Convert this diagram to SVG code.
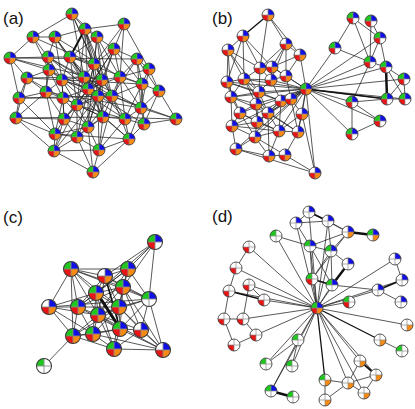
<svg xmlns="http://www.w3.org/2000/svg" xmlns:xlink="http://www.w3.org/1999/xlink" width="415" height="409" viewBox="0 0 415 409">
<style>
.e{fill:none;stroke:#222;stroke-width:0.75}
.t{fill:none;stroke:#111;stroke-linecap:round}
.lbl{font-family:"Liberation Sans",Arial,sans-serif;font-size:17px;fill:#111}
.g{fill:#1ec81e}.b{fill:#1010e6}.r{fill:#e81515}.o{fill:#f78a12}
</style>
<defs>
<path id="tl" d="M0,0H-6A6,6 0 0 1 0,-6Z"/>
<path id="tr" d="M0,0V-6A6,6 0 0 1 6,0Z"/>
<path id="bl" d="M0,0V6A6,6 0 0 1 -6,0Z"/>
<path id="br" d="M0,0H6A6,6 0 0 1 0,6Z"/>
<circle id="bg" r="6" fill="#fff"/>
<g id="ring"><path d="M-6,0H6M0,-6V6" stroke="#8a8a8a" stroke-width="0.7" fill="none"/><circle r="6" fill="none" stroke="#3a3a3a" stroke-width="0.85"/></g>
<g id="GBRO"><use href="#bg"/><use href="#tl" class="g"/><use href="#tr" class="b"/><use href="#bl" class="r"/><use href="#br" class="o"/><use href="#ring"/></g>
<g id="WBRO"><use href="#bg"/><use href="#tr" class="b"/><use href="#bl" class="r"/><use href="#br" class="o"/><use href="#ring"/></g>
<g id="GBRW"><use href="#bg"/><use href="#tl" class="g"/><use href="#tr" class="b"/><use href="#bl" class="r"/><use href="#ring"/></g>
<g id="GBWW"><use href="#bg"/><use href="#tl" class="g"/><use href="#tr" class="b"/><use href="#ring"/></g>
<g id="GWWW"><use href="#bg"/><use href="#tl" class="g"/><use href="#ring"/></g>
<g id="WBWW"><use href="#bg"/><use href="#tr" class="b"/><use href="#ring"/></g>
<g id="WWRW"><use href="#bg"/><use href="#bl" class="r"/><use href="#ring"/></g>
<g id="GWRW"><use href="#bg"/><use href="#tl" class="g"/><use href="#bl" class="r"/><use href="#ring"/></g>
<g id="WWWO"><use href="#bg"/><use href="#br" class="o"/><use href="#ring"/></g>
<g id="WBWO"><use href="#bg"/><use href="#tr" class="b"/><use href="#br" class="o"/><use href="#ring"/></g>
<g id="GBWO"><use href="#bg"/><use href="#tl" class="g"/><use href="#tr" class="b"/><use href="#br" class="o"/><use href="#ring"/></g>
<g id="GWWO"><use href="#bg"/><use href="#tl" class="g"/><use href="#br" class="o"/><use href="#ring"/></g>
</defs>
<rect width="415" height="409" fill="#fff"/>
<g id="labels">
<text class="lbl" x="3" y="24">(a)</text>
<text class="lbl" x="212" y="24">(b)</text>
<text class="lbl" x="3" y="223">(c)</text>
<text class="lbl" x="212" y="222">(d)</text>
</g>
<g id="connectors">
<path class="e" d="M72 14 85 29M72 14 33 37M72 14 97 37M72 14 94 64M72 14 84 77M72 14 102 80M124 24 85 29M124 24 114 49M124 24 94 64M124 24 120 77M124 24 149 69M85 29 55 37M85 29 97 37M85 29 94 64M85 29 102 80M85 29 88 89M85 29 98 96M85 29 77 105M33 37 55 37M33 37 10 58M33 37 48 57M33 37 49 70M55 37 48 57M55 37 70 57M55 37 84 77M55 37 62 80M55 37 88 89M97 37 114 49M97 37 70 57M97 37 94 64M97 37 120 77M97 37 112 96M97 37 102 80M114 49 137 59M114 49 94 64M114 49 120 77M114 49 102 80M114 49 98 96M114 49 77 105M114 49 88 89M10 58 48 57M10 58 49 70M10 58 27 78M10 58 19 98M10 58 102 80M10 58 137 59M48 57 70 57M48 57 49 70M48 57 62 80M48 57 46 92M48 57 84 77M48 57 98 96M70 57 94 64M70 57 84 77M70 57 62 80M70 57 88 89M70 57 98 96M70 57 77 105M70 57 125 119M137 59 149 69M137 59 120 77M137 59 142 84M137 59 159 91M137 59 141 108M137 59 112 96M94 64 84 77M94 64 102 80M94 64 88 89M94 64 112 96M94 64 103 117M149 69 142 84M149 69 159 91M149 69 120 77M149 69 141 108M49 70 27 78M49 70 62 80M49 70 46 92M49 70 63 98M49 70 88 89M27 78 46 92M27 78 19 98M27 78 63 98M27 78 16 118M27 78 84 77M27 78 142 84M84 77 62 80M84 77 102 80M84 77 88 89M84 77 98 96M84 77 77 105M84 77 103 117M120 77 102 80M120 77 142 84M120 77 112 96M120 77 141 108M120 77 125 119M120 77 88 89M62 80 46 92M62 80 88 89M62 80 63 98M62 80 77 105M62 80 64 119M62 80 112 96M102 80 88 89M102 80 98 96M102 80 112 96M102 80 103 117M102 80 88 127M142 84 159 91M142 84 112 96M142 84 141 108M142 84 144 124M142 84 125 119M46 92 19 98M46 92 63 98M46 92 64 119M46 92 16 118M46 92 55 134M88 89 98 96M88 89 63 98M88 89 77 105M88 89 64 119M88 89 88 127M88 89 103 117M88 89 112 96M159 91 141 108M159 91 144 124M159 91 176 119M19 98 16 118M19 98 63 98M19 98 55 134M19 98 112 96M98 96 112 96M98 96 77 105M98 96 103 117M98 96 88 127M98 96 77 137M98 96 99 150M112 96 141 108M112 96 103 117M112 96 125 119M112 96 129 139M112 96 77 105M112 96 176 119M63 98 77 105M63 98 64 119M63 98 88 127M63 98 55 134M77 105 64 119M77 105 103 117M77 105 88 127M77 105 77 137M77 105 125 119M77 105 54 151M141 108 125 119M141 108 144 124M141 108 176 119M141 108 129 139M16 118 55 134M16 118 54 151M16 118 64 119M16 118 103 117M64 119 88 127M64 119 55 134M64 119 77 137M64 119 54 151M103 117 125 119M103 117 88 127M103 117 77 137M103 117 129 139M103 117 99 150M103 117 176 119M125 119 144 124M125 119 129 139M125 119 99 150M144 124 176 119M144 124 129 139M88 127 77 137M88 127 99 150M88 127 93 172M88 127 55 134M55 134 54 151M55 134 77 137M55 134 129 139M77 137 54 151M77 137 99 150M77 137 93 172M129 139 99 150M129 139 93 172M54 151 99 150M54 151 93 172M99 150 93 172M33 37 94 64M55 37 120 77M48 57 112 96M49 70 125 119M46 92 141 108M62 80 129 139M84 77 141 108M70 57 142 84M88 89 144 124M98 96 54 151M102 80 64 119M94 64 77 137M112 96 88 127M120 77 99 150M85 29 112 96M97 37 88 127M114 49 142 84M63 98 103 117"/>
<path class="t" stroke-width="2" d="M85 29 70 57"/>
<path class="e" d="M268 15 286 44M268 15 300 55M268 15 260 68M243 36 228 50M243 36 260 68M243 36 227 82M243 36 244 79M243 36 272 67M228 50 227 82M228 50 244 79M228 50 231 97M228 50 260 68M286 44 300 55M286 44 260 68M286 44 272 67M286 44 286 76M286 44 271 80M300 55 286 76M300 55 306 89M300 55 272 67M260 68 272 67M260 68 244 79M260 68 271 80M260 68 259 92M272 67 271 80M272 67 286 76M272 67 306 89M227 82 244 79M227 82 231 97M227 82 259 92M227 82 306 89M227 82 240 113M244 79 271 80M244 79 259 92M244 79 231 97M244 79 306 89M244 79 256 104M271 80 286 76M271 80 306 89M271 80 259 92M271 80 281 101M286 76 306 89M286 76 291 99M306 89 231 97M306 89 259 92M306 89 281 101M306 89 291 99M306 89 256 104M306 89 240 113M306 89 302 114M306 89 268 113M306 89 232 126M306 89 257 122M306 89 279 131M306 89 298 132M306 89 236 149M306 89 315 173M306 89 255 137M231 97 259 92M231 97 256 104M231 97 240 113M231 97 232 126M259 92 281 101M259 92 256 104M259 92 268 113M281 101 291 99M281 101 268 113M281 101 257 122M281 101 279 131M291 99 302 114M291 99 268 113M291 99 298 132M256 104 240 113M256 104 268 113M256 104 257 122M240 113 232 126M240 113 257 122M240 113 255 137M268 113 257 122M268 113 279 131M268 113 298 132M268 113 269 156M302 114 298 132M302 114 279 131M302 114 315 173M232 126 257 122M232 126 236 149M232 126 255 137M257 122 279 131M257 122 255 137M279 131 298 132M279 131 269 156M279 131 255 137M298 132 285 155M255 137 236 149M255 137 269 156M255 137 285 155M236 149 269 156M269 156 285 155M285 155 315 173M236 149 315 173M227 82 281 101M231 97 268 113M240 113 279 131M232 126 279 131M256 104 298 132M259 92 257 122M244 79 268 113M228 50 259 92M306 89 335 48M306 89 370 62M306 89 386 67M306 89 404 79M306 89 387 99M306 89 405 99M306 89 352 102M306 89 380 121M306 89 352 134M306 89 380 38M353 18 335 48M353 18 370 62M353 18 380 38M371 21 380 38M371 21 370 62M380 38 386 67M380 38 370 62M335 48 370 62M370 62 352 102M370 62 386 67M386 67 404 79M386 67 405 99M404 79 387 99M404 79 405 99M387 99 405 99M387 99 352 102M352 102 352 134M352 102 380 121M380 121 352 134"/>
<path class="t" stroke-width="2.5" d="M386 67 387 99"/>
<path class="t" stroke-width="1.3" d="M243 36 268 15M306 89 387 99"/>
<path class="e" d="M155 242 105 276M155 242 128 269M155 242 123 287M155 242 149 299M155 242 96 293M71 269 105 276M71 269 128 269M71 269 96 293M71 269 49 307M71 269 78 307M71 269 98 315M71 269 73 336M71 269 119 307M71 269 123 287M105 276 128 269M105 276 96 293M105 276 123 287M105 276 78 307M105 276 98 315M105 276 119 307M105 276 149 299M128 269 96 293M128 269 123 287M128 269 149 299M128 269 119 307M128 269 98 315M128 269 78 307M96 293 123 287M96 293 49 307M96 293 78 307M96 293 98 315M96 293 119 307M96 293 93 334M96 293 114 349M123 287 78 307M123 287 149 299M123 287 98 315M123 287 119 307M123 287 120 329M123 287 141 330M123 287 163 350M49 307 78 307M49 307 98 315M49 307 73 336M49 307 93 334M49 307 149 299M78 307 98 315M78 307 119 307M78 307 73 336M78 307 93 334M78 307 120 329M149 299 119 307M149 299 120 329M149 299 141 330M149 299 163 350M149 299 98 315M98 315 119 307M98 315 73 336M98 315 93 334M98 315 120 329M98 315 141 330M98 315 114 349M98 315 163 350M119 307 93 334M119 307 120 329M119 307 141 330M119 307 114 349M119 307 163 350M119 307 73 336M73 336 93 334M73 336 114 349M73 336 120 329M73 336 44 366M93 334 120 329M93 334 114 349M93 334 163 350M120 329 141 330M120 329 114 349M120 329 163 350M141 330 114 349M141 330 163 350M114 349 163 350M71 269 149 299"/>
<path class="t" stroke-width="3" d="M97 293 119 327"/>
<path class="t" stroke-width="1.6" d="M105 276 120 329"/>
<path class="e" d="M309 212 296 223M309 212 348 232M296 223 328 221M296 223 310 246M328 221 348 232M328 221 331 251M348 232 310 246M348 232 331 251M348 232 312 279M276 236 310 246M310 246 331 251M310 246 312 279M310 246 332 285M331 251 332 285M331 251 312 279M348 264 331 251M395 259 402 280M378 290 401 302M378 290 332 285M249 247 236 268M236 268 229 291M229 291 224 319M224 319 234 345M234 345 256 335M256 335 243 319M243 319 249 285M243 319 224 319M249 285 264 300M380 340 402 351M360 361 348 383M376 375 364 393M376 375 348 383M348 383 325 380M325 380 325 400M348 383 325 400M348 383 364 393M298 340 266 364M298 340 292 366M298 340 271 391M317 308 309 212M317 308 296 223M317 308 328 221M317 308 276 236M317 308 310 246M317 308 331 251M317 308 249 247M317 308 395 259M317 308 236 268M317 308 312 279M317 308 332 285M317 308 378 290M317 308 249 285M317 308 264 300M317 308 349 302M317 308 243 319M317 308 407 325M317 308 256 335M317 308 298 340M317 308 360 361M317 308 266 364M317 308 292 366M317 308 376 375M317 308 348 383M317 308 364 393M317 308 271 391M317 308 229 291M317 308 348 264M317 308 402 280"/>
<path class="t" stroke-width="2.4" d="M348 232 373 235M348 264 332 285M271 391 293 397"/>
<path class="t" stroke-width="1.8" d="M312 279 332 285M402 280 378 290M360 361 376 375M229 291 264 300M309 212 328 221"/>
<path class="t" stroke-width="1.3" d="M317 308 325 380M317 308 380 340"/>
</g>
<g id="panel-a">
<g id="a1" transform="translate(72 14)"><use href="#GBRO"/></g>
<g id="a2" transform="translate(124 24)"><use href="#GBRO"/></g>
<g id="a3" transform="translate(85 29)"><use href="#GBRO"/></g>
<g id="a4" transform="translate(33 37)"><use href="#GBRO"/></g>
<g id="a5" transform="translate(55 37)"><use href="#GBRO"/></g>
<g id="a6" transform="translate(97 37)"><use href="#GBRO"/></g>
<g id="a7" transform="translate(114 49)"><use href="#GBRO"/></g>
<g id="a8" transform="translate(10 58)"><use href="#GBRO"/></g>
<g id="a9" transform="translate(48 57)"><use href="#GBRO"/></g>
<g id="a10" transform="translate(70 57)"><use href="#GBRO"/></g>
<g id="a11" transform="translate(137 59)"><use href="#GBRO"/></g>
<g id="a12" transform="translate(94 64)"><use href="#GBRO"/></g>
<g id="a13" transform="translate(149 69)"><use href="#GBRO"/></g>
<g id="a14" transform="translate(49 70)"><use href="#GBRO"/></g>
<g id="a15" transform="translate(27 78)"><use href="#GBRO"/></g>
<g id="a16" transform="translate(84 77)"><use href="#GBRO"/></g>
<g id="a17" transform="translate(120 77)"><use href="#GBRO"/></g>
<g id="a18" transform="translate(62 80)"><use href="#GBRO"/></g>
<g id="a19" transform="translate(102 80)"><use href="#GBRO"/></g>
<g id="a20" transform="translate(142 84)"><use href="#GBRO"/></g>
<g id="a21" transform="translate(46 92)"><use href="#GBRO"/></g>
<g id="a22" transform="translate(88 89)"><use href="#GBRO"/></g>
<g id="a23" transform="translate(159 91)"><use href="#GBRO"/></g>
<g id="a24" transform="translate(19 98)"><use href="#GBRO"/></g>
<g id="a25" transform="translate(98 96)"><use href="#GBRO"/></g>
<g id="a26" transform="translate(112 96)"><use href="#GBRO"/></g>
<g id="a27" transform="translate(63 98)"><use href="#GBRO"/></g>
<g id="a28" transform="translate(77 105)"><use href="#GBRO"/></g>
<g id="a29" transform="translate(141 108)"><use href="#GBRO"/></g>
<g id="a30" transform="translate(16 118)"><use href="#GBRO"/></g>
<g id="a31" transform="translate(64 119)"><use href="#GBRO"/></g>
<g id="a32" transform="translate(103 117)"><use href="#GBRO"/></g>
<g id="a33" transform="translate(125 119)"><use href="#GBRO"/></g>
<g id="a34" transform="translate(144 124)"><use href="#GBRO"/></g>
<g id="a35" transform="translate(176 119)"><use href="#GBRO"/></g>
<g id="a36" transform="translate(88 127)"><use href="#GBRO"/></g>
<g id="a37" transform="translate(55 134)"><use href="#GBRO"/></g>
<g id="a38" transform="translate(77 137)"><use href="#GBRO"/></g>
<g id="a39" transform="translate(129 139)"><use href="#GBRO"/></g>
<g id="a40" transform="translate(54 151)"><use href="#GBRO"/></g>
<g id="a41" transform="translate(99 150)"><use href="#GBRO"/></g>
<g id="a42" transform="translate(93 172)"><use href="#GBRO"/></g>
</g>
<g id="panel-b">
<g id="b1" transform="translate(268 15)"><use href="#WBRO"/></g>
<g id="b2" transform="translate(243 36)"><use href="#WBRO"/></g>
<g id="b3" transform="translate(228 50)"><use href="#WBRO"/></g>
<g id="b4" transform="translate(286 44)"><use href="#WBRO"/></g>
<g id="b5" transform="translate(300 55)"><use href="#WBRO"/></g>
<g id="b6" transform="translate(260 68)"><use href="#WBRO"/></g>
<g id="b7" transform="translate(272 67)"><use href="#WBRO"/></g>
<g id="b8" transform="translate(227 82)"><use href="#WBRO"/></g>
<g id="b9" transform="translate(244 79)"><use href="#WBRO"/></g>
<g id="b10" transform="translate(271 80)"><use href="#WBRO"/></g>
<g id="b11" transform="translate(286 76)"><use href="#WBRO"/></g>
<g id="b12" transform="translate(231 97)"><use href="#WBRO"/></g>
<g id="b13" transform="translate(259 92)"><use href="#WBRO"/></g>
<g id="b14" transform="translate(281 101)"><use href="#WBRO"/></g>
<g id="b15" transform="translate(291 99)"><use href="#WBRO"/></g>
<g id="b16" transform="translate(256 104)"><use href="#WBRO"/></g>
<g id="b17" transform="translate(240 113)"><use href="#WBRO"/></g>
<g id="b18" transform="translate(268 113)"><use href="#WBRO"/></g>
<g id="b19" transform="translate(302 114)"><use href="#WBRO"/></g>
<g id="b20" transform="translate(232 126)"><use href="#WBRO"/></g>
<g id="b21" transform="translate(257 122)"><use href="#WBRO"/></g>
<g id="b22" transform="translate(279 131)"><use href="#WBRO"/></g>
<g id="b23" transform="translate(298 132)"><use href="#WBRO"/></g>
<g id="b24" transform="translate(255 137)"><use href="#WBRO"/></g>
<g id="b25" transform="translate(236 149)"><use href="#WBRO"/></g>
<g id="b26" transform="translate(269 156)"><use href="#WBRO"/></g>
<g id="b27" transform="translate(285 155)"><use href="#WBRO"/></g>
<g id="b28" transform="translate(315 173)"><use href="#WBRO"/></g>
<g id="b-hub" transform="translate(306 89)"><use href="#GBRO"/></g>
<g id="b29" transform="translate(353 18)"><use href="#GBRW"/></g>
<g id="b30" transform="translate(371 21)"><use href="#GBRW"/></g>
<g id="b31" transform="translate(380 38)"><use href="#GBRW"/></g>
<g id="b32" transform="translate(335 48)"><use href="#GBRW"/></g>
<g id="b33" transform="translate(370 62)"><use href="#GBRW"/></g>
<g id="b34" transform="translate(386 67)"><use href="#GBRW"/></g>
<g id="b35" transform="translate(404 79)"><use href="#GBRW"/></g>
<g id="b36" transform="translate(387 99)"><use href="#GBRW"/></g>
<g id="b37" transform="translate(405 99)"><use href="#GBRW"/></g>
<g id="b38" transform="translate(352 102)"><use href="#GBRW"/></g>
<g id="b39" transform="translate(380 121)"><use href="#GBRW"/></g>
<g id="b40" transform="translate(352 134)"><use href="#GBRW"/></g>
</g>
<g id="panel-c">
<g id="c1" transform="translate(155 242) scale(1.25)"><use href="#GBRW"/></g>
<g id="c2" transform="translate(71 269) scale(1.25)"><use href="#GBRO"/></g>
<g id="c3" transform="translate(105 276) scale(1.25)"><use href="#WBRO"/></g>
<g id="c4" transform="translate(128 269) scale(1.25)"><use href="#GBRO"/></g>
<g id="c5" transform="translate(96 293) scale(1.25)"><use href="#GBRO"/></g>
<g id="c6" transform="translate(123 287) scale(1.25)"><use href="#GBRO"/></g>
<g id="c7" transform="translate(49 307) scale(1.25)"><use href="#WBRO"/></g>
<g id="c8" transform="translate(78 307) scale(1.25)"><use href="#GBRO"/></g>
<g id="c9" transform="translate(149 299) scale(1.25)"><use href="#GBWW"/></g>
<g id="c10" transform="translate(98 315) scale(1.25)"><use href="#GBRO"/></g>
<g id="c11" transform="translate(119 307) scale(1.25)"><use href="#GBRO"/></g>
<g id="c12" transform="translate(73 336) scale(1.25)"><use href="#GBRO"/></g>
<g id="c13" transform="translate(93 334) scale(1.25)"><use href="#GBRO"/></g>
<g id="c14" transform="translate(120 329) scale(1.25)"><use href="#GBRO"/></g>
<g id="c15" transform="translate(141 330) scale(1.25)"><use href="#WBRO"/></g>
<g id="c16" transform="translate(114 349) scale(1.25)"><use href="#GBRO"/></g>
<g id="c17" transform="translate(163 350) scale(1.25)"><use href="#WBRO"/></g>
<g id="c18" transform="translate(44 366) scale(1.25)"><use href="#GWWW"/></g>
</g>
<g id="panel-d">
<g id="d1" transform="translate(309 212)"><use href="#WBWW"/></g>
<g id="d2" transform="translate(296 223)"><use href="#WBWW"/></g>
<g id="d3" transform="translate(328 221)"><use href="#WBWW"/></g>
<g id="d4" transform="translate(348 232)"><use href="#WBWO"/></g>
<g id="d5" transform="translate(373 235)"><use href="#GBWO"/></g>
<g id="d6" transform="translate(276 236)"><use href="#GWWW"/></g>
<g id="d7" transform="translate(310 246)"><use href="#GBWW"/></g>
<g id="d8" transform="translate(331 251)"><use href="#GBWW"/></g>
<g id="d9" transform="translate(249 247)"><use href="#WWRW"/></g>
<g id="d10" transform="translate(395 259)"><use href="#WBWW"/></g>
<g id="d11" transform="translate(348 264)"><use href="#WBWW"/></g>
<g id="d12" transform="translate(236 268)"><use href="#WWRW"/></g>
<g id="d13" transform="translate(312 279)"><use href="#GWRW"/></g>
<g id="d14" transform="translate(332 285)"><use href="#GBWW"/></g>
<g id="d15" transform="translate(402 280)"><use href="#WBWW"/></g>
<g id="d16" transform="translate(378 290)"><use href="#WBWW"/></g>
<g id="d17" transform="translate(229 291)"><use href="#WWRW"/></g>
<g id="d18" transform="translate(249 285)"><use href="#WWRW"/></g>
<g id="d19" transform="translate(264 300)"><use href="#WWRW"/></g>
<g id="d20" transform="translate(349 302)"><use href="#GWRW"/></g>
<g id="d21" transform="translate(401 302)"><use href="#WBWW"/></g>
<g id="d22" transform="translate(224 319)"><use href="#WWRW"/></g>
<g id="d23" transform="translate(243 319)"><use href="#WWRW"/></g>
<g id="d24" transform="translate(407 325)"><use href="#WWWO"/></g>
<g id="d25" transform="translate(256 335)"><use href="#WWRW"/></g>
<g id="d26" transform="translate(298 340)"><use href="#GWWW"/></g>
<g id="d27" transform="translate(380 340)"><use href="#WWWO"/></g>
<g id="d28" transform="translate(234 345)"><use href="#WWRW"/></g>
<g id="d29" transform="translate(402 351)"><use href="#GWWW"/></g>
<g id="d30" transform="translate(360 361)"><use href="#WWWO"/></g>
<g id="d31" transform="translate(266 364)"><use href="#GWWW"/></g>
<g id="d32" transform="translate(292 366)"><use href="#GWWW"/></g>
<g id="d33" transform="translate(376 375)"><use href="#WWWO"/></g>
<g id="d34" transform="translate(325 380)"><use href="#GWWO"/></g>
<g id="d35" transform="translate(348 383)"><use href="#WWWO"/></g>
<g id="d36" transform="translate(364 393)"><use href="#WWWO"/></g>
<g id="d37" transform="translate(271 391)"><use href="#GBWW"/></g>
<g id="d38" transform="translate(293 397)"><use href="#GWWW"/></g>
<g id="d39" transform="translate(325 400)"><use href="#WWWO"/></g>
<g id="d-hub" transform="translate(317 308)"><use href="#GBRO"/></g>
</g>
</svg>
